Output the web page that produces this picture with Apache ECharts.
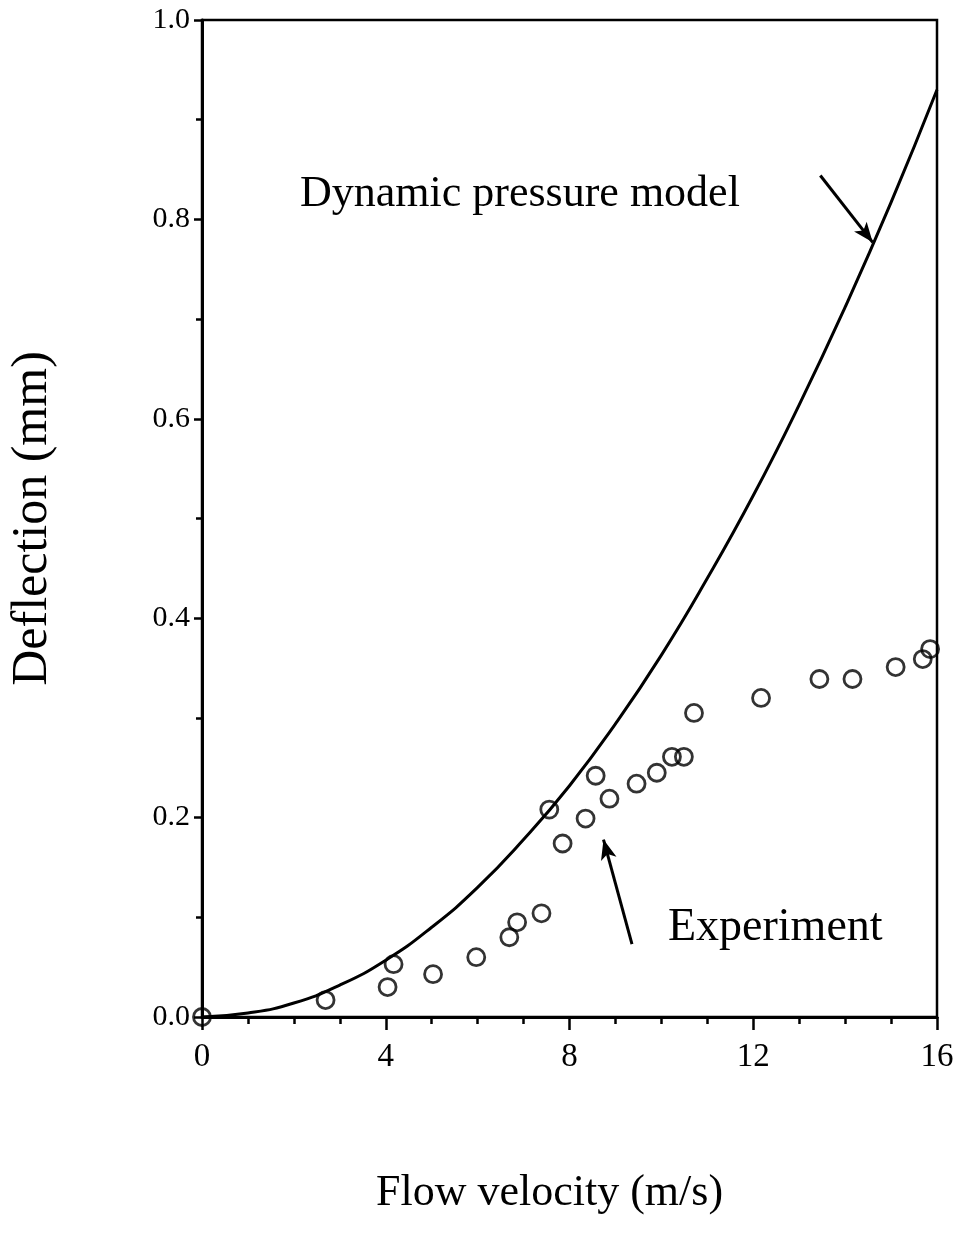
<!DOCTYPE html>
<html>
<head>
<meta charset="utf-8">
<script src="https://cdn.jsdelivr.net/npm/echarts@6/dist/echarts.min.js"></script>
<style>
  html, body { margin: 0; padding: 0; background: #fff; }
  #chart { width: 958px; height: 1243px; }
</style>
</head>
<body>
<div id="chart"></div>
<script>
// model curve
const modelVelocity = [0, 1, 2, 3, 4, 5, 6, 7, 8, 9, 10, 11, 12, 13, 14, 15, 16];
const modelDeflection = [0, 0.004, 0.014, 0.032, 0.057, 0.09, 0.13, 0.178, 0.232, 0.294, 0.363, 0.44, 0.523, 0.614, 0.712, 0.817, 0.93];

// experiment points
const expVelocity = [0, 2.69, 4.04, 4.17, 5.03, 5.97, 6.69, 6.86, 7.39, 7.56, 7.85, 8.35, 8.57, 8.87, 9.46, 9.90, 10.23, 10.49, 10.71, 12.17, 13.44, 14.16, 15.10, 15.69, 15.85];
const expDeflection = [0, 0.017, 0.030, 0.053, 0.043, 0.060, 0.080, 0.095, 0.104, 0.208, 0.174, 0.199, 0.242, 0.219, 0.234, 0.245, 0.261, 0.261, 0.305, 0.320, 0.339, 0.339, 0.351, 0.359, 0.369];

// annotation arrows [from, to] in data units
const modelArrow = [[13.46, 0.844], [14.6, 0.777]];
const expArrow = [[9.36, 0.073], [8.74, 0.178]];

const font = '"Liberation Serif", "DejaVu Serif", serif';

const chart = echarts.init(document.getElementById('chart'));
chart.setOption({
  animation: false,
  grid: {
    left: 202, right: 21, top: 20, bottom: 226,
    outerBoundsMode: 'none', containLabel: false,
    show: true, borderColor: '#000', borderWidth: 2.5
  },
  xAxis: {
    type: 'value', min: 0, max: 16, interval: 4,
    name: 'Flow velocity (m/s)', nameLocation: 'middle', nameGap: 154,
    nameTextStyle: { fontFamily: font, fontSize: 44, color: '#000', padding: [0, 40, 0, 0] },
    axisLine: { lineStyle: { color: '#000', width: 3 } },
    axisTick: { inside: false, length: 13, lineStyle: { color: '#000', width: 2.5 } },
    minorTick: { show: true, splitNumber: 4, length: 7, lineStyle: { color: '#000', width: 2.5 } },
    axisLabel: { fontFamily: font, fontSize: 33, color: '#000', margin: 24 },
    splitLine: { show: false }
  },
  yAxis: {
    type: 'value', min: 0, max: 1, interval: 0.2,
    name: 'Deflection (mm)', nameLocation: 'middle', nameGap: 144,
    nameTextStyle: { fontFamily: font, fontSize: 50, color: '#000' },
    axisLine: { show: true, lineStyle: { color: '#000', width: 3 } },
    axisTick: { show: true, length: 8, lineStyle: { color: '#000', width: 2.5 } },
    minorTick: { show: true, splitNumber: 2, length: 6, lineStyle: { color: '#000', width: 2.5 } },
    axisLabel: { fontFamily: font, fontSize: 30, color: '#000', margin: 12,
      formatter: v => v.toFixed(1) },
    splitLine: { show: false }
  },
  series: [
    {
      type: 'line',
      data: modelVelocity.map((v, i) => [v, modelDeflection[i]]),
      smooth: true,
      showSymbol: false,
      lineStyle: { color: '#000', width: 3 },
      markLine: {
        silent: true,
        symbol: ['none', 'arrow'],
        symbolSize: [12, 20],
        label: { show: false },
        lineStyle: { color: '#000', width: 3, type: 'solid' },
        data: [
          [{ coord: modelArrow[0] }, { coord: modelArrow[1] }],
          [{ coord: expArrow[0] }, { coord: expArrow[1] }]
        ]
      }
    },
    {
      type: 'scatter',
      data: expVelocity.map((v, i) => [v, expDeflection[i]]),
      symbol: 'circle',
      symbolSize: 17,
      itemStyle: { color: 'rgba(255,255,255,0)', borderColor: '#000', borderWidth: 2.8 },
      z: 3
    }
  ],
  graphic: [
    { type: 'text', left: 300, top: 172,
      style: { text: 'Dynamic pressure model', fontFamily: font, fontSize: 44, fill: '#000' } },
    { type: 'text', left: 668, top: 905,
      style: { text: 'Experiment', fontFamily: font, fontSize: 46, fill: '#000' } }
  ]
});
</script>
</body>
</html>
